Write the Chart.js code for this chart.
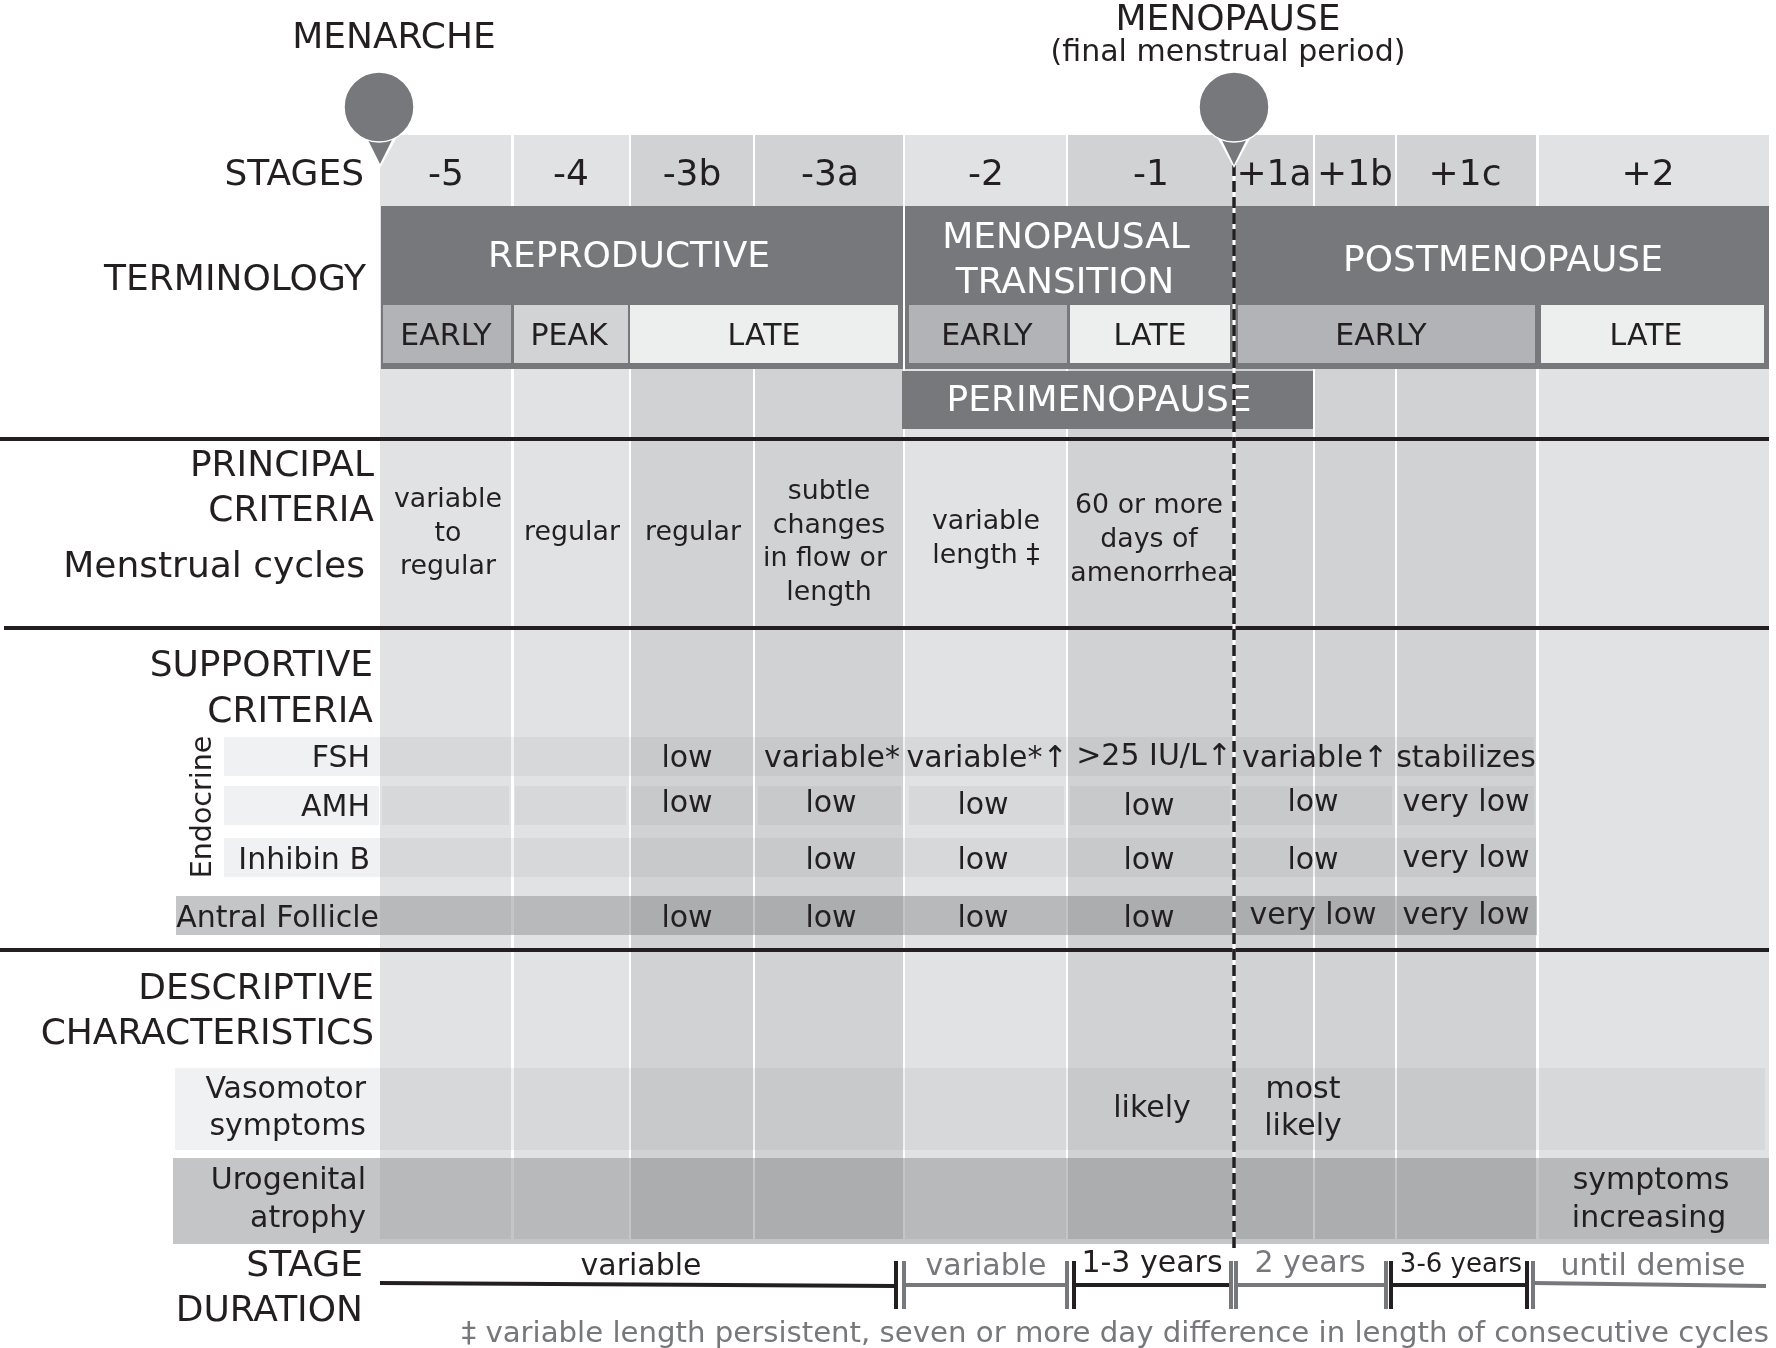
<!DOCTYPE html>
<html>
<head>
<meta charset="utf-8">
<title>STRAW+10 staging</title>
<script src="https://cdn.jsdelivr.net/npm/chart.js@4"></script>
<style>
  html, body { margin: 0; padding: 0; background: #fff; }
  canvas { display: block; }
</style>
</head>
<body>
<canvas id="stagesChart" width="1776" height="1348"></canvas>
<script>
// values, one entry per stage column
const stages = ['-5', '-4', '-3b', '-3a', '-2', '-1', '+1a', '+1b', '+1c', '+2'];
const terminology = ['REPRODUCTIVE', 'MENOPAUSAL', 'TRANSITION', 'POSTMENOPAUSE'];
const phases = ['EARLY', 'PEAK', 'LATE', 'EARLY', 'LATE', 'EARLY', 'LATE'];
const menstrualCycles = [['variable', 'to', 'regular'], ['regular'], ['regular'], ['subtle', 'changes', 'in flow or', 'length'], ['variable', 'length ‡'], ['60 or more', 'days of', 'amenorrhea']];
const fsh = ['low', 'variable*', 'variable*↑', '>25 IU/L↑', 'variable↑', 'stabilizes'];
const amh = ['low', 'low', 'low', 'low', 'low', 'very low'];
const inhibinB = ['low', 'low', 'low', 'low', 'very low'];
const antralFollicle = ['low', 'low', 'low', 'low', 'very low', 'very low'];
const durations = ['variable', 'variable', '1-3 years', '2 years', '3-6 years', 'until demise'];

// layout, in the units of the x and y scales
const columnEdges = [[380, 511], [514, 629], [631, 753], [755, 903], [905, 1066], [1068, 1313], [1315, 1395], [1397, 1536], [1539, 1769]];
const columnIsDark = [false, false, true, true, false, true, true, true, false];
const stageX = [446, 571, 692, 830, 986, 1151, 1274, 1355, 1465, 1648];
const phaseBoxes = [[383, 511, '#b1b3b6', 446], [514, 628, '#d1d3d4', 569], [630, 898, '#edeeee', 764], [909, 1067, '#b1b3b6', 987], [1070, 1230, '#edeeee', 1150], [1238, 1535, '#b1b3b6', 1381], [1541, 1764, '#edeeee', 1646]];
const amhCells = [[224, 379], [382, 509], [515, 626], [631, 753], [758, 901], [909, 1064], [1070, 1230], [1237, 1392], [1398, 1534]];
const durationEdges = [[380, 896], [904, 1067], [1074, 1231], [1236, 1386], [1391, 1527], [1533, 1766]];
const durationTicks = [[896, 904], [1067, 1074], [1231, 1236], [1386, 1391], [1527, 1533]];

const INK = '#231f20';
const SLATE = '#77787b';
const BAND = '#f0f1f2';
const BAND_DARK = '#c4c5c7';

const datasets = [];
const texts = [];

function add(ds) {
    ds.order = -datasets.length;
    ds.pointRadius = ds.pointRadius || 0;
    ds.clip = false;
    datasets.push(ds);
}

function box(x0, x1, y0, y1, color) {
    add({
        data: [{ x: x0, y: y1 }, { x: x1, y: y1 }],
        fill: { target: { value: y0 } },
        backgroundColor: color,
        borderWidth: 0
    });
}

function wedge(xl, xt, xr, yTop, yTip, color) {
    add({
        data: [{ x: xl, y: yTop }, { x: xt, y: yTip }, { x: xr, y: yTop }],
        fill: { target: { value: yTop } },
        backgroundColor: color,
        borderWidth: 0
    });
}

function line(x0, y0, x1, y1, color, width, dash) {
    add({
        data: [{ x: x0, y: y0 }, { x: x1, y: y1 }],
        fill: false,
        borderColor: color,
        borderWidth: width,
        borderDash: dash || []
    });
}

function pin(x, y, color) {
    add({
        data: [{ x: x, y: y }],
        showLine: false,
        pointRadius: 35,
        pointBackgroundColor: color,
        pointBorderColor: '#fff',
        pointBorderWidth: 1.5
    });
}

function put(text, x, y, size, color, align, rotate) {
    texts.push({ text, x, y, size, color: color || INK, align: align || 'center', rotate: rotate || 0 });
}

// bands sit under the translucent columns
box(224, 1534, 737, 776, BAND);
amhCells.forEach(c => box(c[0], c[1], 786, 825, BAND));
box(224, 1536, 838, 877, BAND);
box(176, 1537, 896, 935, BAND_DARK);
box(175, 1765, 1068, 1150, BAND);
box(173, 1769, 1158, 1244, BAND_DARK);

columnEdges.forEach((c, i) => {
    box(c[0], c[1], 135, 1239, columnIsDark[i] ? 'rgba(130,132,136,0.37)' : 'rgba(150,154,160,0.29)');
});

// terminology block
box(381, 1769, 206, 369, SLATE);
box(903, 905, 206, 369, '#fff');
phaseBoxes.forEach(b => box(b[0], b[1], 305, 363, b[2]));
box(902, 1313, 371, 429, SLATE);

// rest of the text goes in before the dashed line
const topIndex = datasets.length - 1;

line(0, 439, 1769, 439, INK, 4);
line(4, 628, 1769, 628, INK, 4);
line(0, 950, 1769, 950, INK, 4);

// stage duration bar
durationEdges.forEach((d, i) => {
    const color = i % 2 === 0 ? INK : SLATE;
    const yStart = (i === 0 || i === 5) ? 1283 : 1285;
    const yEnd = (i === 0 || i === 5) ? 1286 : 1285;
    line(d[0], yStart, d[1], yEnd, color, 4);
});
[[INK, SLATE], [SLATE, INK], [SLATE, SLATE], [SLATE, INK], [INK, SLATE]].forEach((pair, i) => {
    line(durationTicks[i][0], 1261, durationTicks[i][0], 1309, pair[0], 4);
    line(durationTicks[i][1], 1261, durationTicks[i][1], 1309, pair[1], 4);
});

// menopause marker
line(1234, 165, 1234, 1252, '#fff', 3);
line(1234, 165, 1234, 1252, INK, 3.5, [11, 5]);

// pins
wedge(357, 380, 403, 126, 168, '#fff');
wedge(363, 380, 397, 130, 164, SLATE);
pin(379, 107, SLATE);
wedge(1211, 1234, 1257, 126, 168, '#fff');
wedge(1217, 1234, 1251, 130, 165, SLATE);
pin(1234, 107, SLATE);

// headings
put('MENARCHE', 394, 48, 36);
put('MENOPAUSE', 1228, 30, 36);
put('(final menstrual period)', 1228, 61, 30);
put('STAGES', 364, 185, 36, INK, 'right');
put('TERMINOLOGY', 366, 290, 36, INK, 'right');
put('PRINCIPAL', 374, 476, 36, INK, 'right');
put('CRITERIA', 374, 521, 36, INK, 'right');
put('Menstrual cycles', 365, 577, 36, INK, 'right');
put('SUPPORTIVE', 373, 676, 36, INK, 'right');
put('CRITERIA', 373, 722, 36, INK, 'right');
put('DESCRIPTIVE', 374, 999, 36, INK, 'right');
put('CHARACTERISTICS', 374, 1044, 36, INK, 'right');
put('STAGE', 363, 1276, 36, INK, 'right');
put('DURATION', 363, 1321, 36, INK, 'right');

stages.forEach((s, i) => put(s, stageX[i], 185, 36));

put(terminology[0], 629, 267, 36, '#fff');
put(terminology[1], 1066, 248, 36, '#fff');
put(terminology[2], 1065, 293, 36, '#fff');
put(terminology[3], 1503, 271, 36, '#fff');
phases.forEach((p, i) => put(p, phaseBoxes[i][3], 345, 30));
put('PERIMENOPAUSE', 1099, 411, 36, '#fff');

// principal criteria
const cycleX = [448, 572, 693, 829, 986, 1149];
const cycleY = [[507, 541, 574], [540], [540], [499, 533, 566, 600], [529, 563], [513, 547, 581]];
menstrualCycles.forEach((lines, i) => {
    lines.forEach((t, j) => {
        let x = cycleX[i];
        if (t === 'in flow or') x = 825;
        if (t === 'amenorrhea') x = 1152;
        put(t, x, cycleY[i][j], 26.8);
    });
});

// supportive criteria
put('Endocrine', 211, 807, 28.5, INK, 'center', -Math.PI / 2);
put('FSH', 370, 767, 30, INK, 'right');
put('AMH', 370, 816, 30, INK, 'right');
put('Inhibin B', 370, 869, 30, INK, 'right');
put('Antral Follicle', 379, 927, 30, INK, 'right');

const fshX = [687, 832, 987, 1154, 1315, 1466];
const fshY = [767, 767, 767, 765, 767, 767];
fsh.forEach((t, i) => put(t, fshX[i], fshY[i], 30));
const amhX = [687, 831, 983, 1149, 1313, 1466];
const amhY = [812, 812, 814, 815, 811, 811];
amh.forEach((t, i) => put(t, amhX[i], amhY[i], 30));
const inhibinX = [831, 983, 1149, 1313, 1466];
const inhibinY = [869, 869, 869, 869, 867];
inhibinB.forEach((t, i) => put(t, inhibinX[i], inhibinY[i], 30));
const antralX = [687, 831, 983, 1149, 1313, 1466];
const antralY = [927, 927, 927, 927, 924, 924];
antralFollicle.forEach((t, i) => put(t, antralX[i], antralY[i], 30));

// descriptive characteristics
put('Vasomotor', 366, 1098, 30, INK, 'right');
put('symptoms', 366, 1135, 30, INK, 'right');
put('Urogenital', 366, 1189, 30, INK, 'right');
put('atrophy', 366, 1227, 30, INK, 'right');
put('likely', 1152, 1117, 30);
put('most', 1303, 1098, 30);
put('likely', 1303, 1135, 30);
put('symptoms', 1651, 1189, 30);
put('increasing', 1649, 1227, 30);

// duration labels
const durationX = [641, 986, 1152, 1310, 1461, 1653];
const durationY = [1275, 1275, 1272, 1272, 1272, 1275];
const durationSize = [30, 30, 30, 30, 26, 30];
durations.forEach((t, i) => put(t, durationX[i], durationY[i], durationSize[i], i % 2 === 1 || i === 5 ? SLATE : INK));
put('‡ variable length persistent, seven or more day difference in length of consecutive cycles', 1769, 1342, 29.2, SLATE, 'right');

const textPlugin = {
    id: 'textPlugin',
    afterDatasetDraw(chart, args) {
        if (args.index !== topIndex) return;
        const { ctx, scales } = chart;
        ctx.save();
        ctx.textBaseline = 'alphabetic';
        texts.forEach(t => {
            const px = scales.x.getPixelForValue(t.x);
            const py = scales.y.getPixelForValue(t.y);
            ctx.save();
            ctx.translate(px, py);
            if (t.rotate) ctx.rotate(t.rotate);
            ctx.font = t.size + 'px "DejaVu Sans"';
            ctx.fillStyle = t.color;
            ctx.textAlign = t.align;
            ctx.fillText(t.text, 0, 0);
            ctx.restore();
        });
        ctx.restore();
    }
};

new Chart(document.getElementById('stagesChart').getContext('2d'), {
    type: 'line',
    data: { datasets: datasets },
    options: {
        responsive: false,
        animation: false,
        parsing: { xAxisKey: 'x', yAxisKey: 'y' },
        layout: { padding: 0, autoPadding: false },
        events: [],
        scales: {
            x: { type: 'linear', display: false, min: 0, max: 1776 },
            y: { type: 'linear', display: false, min: 0, max: 1348, reverse: true }
        },
        plugins: { legend: { display: false }, tooltip: { enabled: false } }
    },
    plugins: [textPlugin]
});
</script>
</body>
</html>
